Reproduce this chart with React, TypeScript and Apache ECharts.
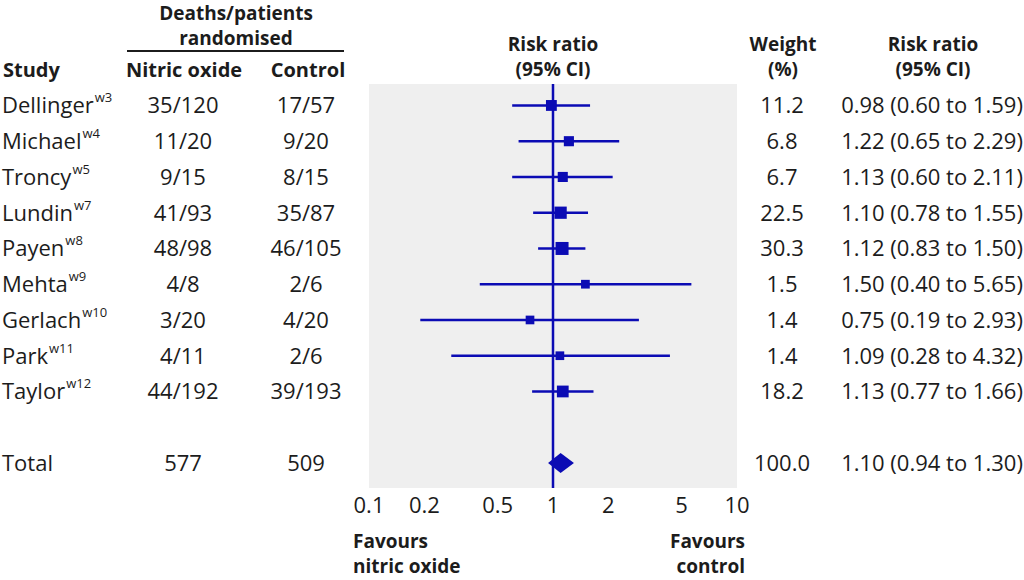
import React, { useEffect, useRef } from 'react';
import * as echarts from 'echarts';

// ---- data ----
const studies = ['Dellinger', 'Michael', 'Troncy', 'Lundin', 'Payen', 'Mehta', 'Gerlach', 'Park', 'Taylor'];
const refs = ['w3', 'w4', 'w5', 'w7', 'w8', 'w9', 'w10', 'w11', 'w12'];
const nitricOxide = ['35/120', '11/20', '9/15', '41/93', '48/98', '4/8', '3/20', '4/11', '44/192'];
const control = ['17/57', '9/20', '8/15', '35/87', '46/105', '2/6', '4/20', '2/6', '39/193'];
const weights = [11.2, 6.8, 6.7, 22.5, 30.3, 1.5, 1.4, 1.4, 18.2];
const riskRatio = [0.98, 1.22, 1.13, 1.1, 1.12, 1.5, 0.75, 1.09, 1.13];
const ciLow = [0.6, 0.65, 0.6, 0.78, 0.83, 0.4, 0.19, 0.28, 0.77];
const ciHigh = [1.59, 2.29, 2.11, 1.55, 1.5, 5.65, 2.93, 4.32, 1.66];
const totalLabel = 'Total';
const totalNitric = '577';
const totalControl = '509';
const totalWeight = 100.0;
const totalRR = 1.1;
const totalLow = 0.94;
const totalHigh = 1.3;
const tickValues = [0.1, 0.2, 0.5, 1, 2, 5, 10];

// ---- style ----
const BLUE = '#0b0bb4';
const INK = '#1c1c1c';
const FONT = '"Open Sans", "Noto Sans", sans-serif';
const FS = 22;
const HFS = 20;
const STACKFS = 19;
const SUPFS = 13;

const fmt2 = (v: number) => v.toFixed(2);
const fmtTick = (v: number) => {
  const r = Math.round(v * 10) / 10;
  return r >= 1 ? String(Math.round(r)) : String(r);
};

export default function App() {
  const ref = useRef<HTMLDivElement>(null);
  useEffect(() => {
    const chart = echarts.init(ref.current!, null, { renderer: 'svg' });
    const L = Math.log10;
    const totalRow = studies.length + 1;

    const ctx = document.createElement('canvas').getContext('2d')!;
    ctx.font = `${FS}px ${FONT}`;
    const measure = (s: string) => ctx.measureText(s).width;

    const txt = (text: string, x: number, y: number, align: string, bold = false, extra: any = {}) => ({
      type: 'text',
      x,
      y,
      style: {
        text,
        fill: INK,
        fontSize: bold ? HFS : FS,
        fontFamily: FONT,
        fontWeight: bold ? 'bold' : 'normal',
        align,
        verticalAlign: 'middle',
        ...extra,
      },
    });
    const stack = (text: string, x: number, y: number, align: string) =>
      txt(text, x, y, align, true, { fontSize: STACKFS });

    const tableRows: any[] = studies.map((s, i) => ({
      value: [0, i],
      name: s,
      ref: refs[i],
      nitric: nitricOxide[i],
      control: control[i],
      weight: weights[i].toFixed(1),
      ci: `${fmt2(riskRatio[i])} (${fmt2(ciLow[i])} to ${fmt2(ciHigh[i])})`,
    }));
    tableRows.push({
      value: [0, totalRow],
      name: totalLabel,
      ref: '',
      nitric: totalNitric,
      control: totalControl,
      weight: totalWeight.toFixed(1),
      ci: `${fmt2(totalRR)} (${fmt2(totalLow)} to ${fmt2(totalHigh)})`,
    });

    const option: any = {
      animation: false,
      grid: {
        left: 369,
        right: 1024 - 737,
        top: 84,
        bottom: 580 - 488,
        show: true,
        backgroundColor: '#efefef',
        borderWidth: 0,
      },
      xAxis: {
        type: 'value',
        min: -1,
        max: 1,
        axisLine: { show: false },
        axisTick: { show: false, customValues: tickValues.map(L) },
        splitLine: { show: false },
        axisLabel: {
          customValues: tickValues.map(L),
          formatter: (v: number) => fmtTick(Math.pow(10, v)),
          color: INK,
          fontSize: FS,
          fontFamily: FONT,
          margin: 5,
        },
      },
      yAxis: {
        type: 'value',
        min: -0.6,
        max: 10.7,
        inverse: true,
        show: false,
      },
      series: [
        {
          type: 'line',
          data: [
            [0, -0.6],
            [0, 10.7],
          ],
          symbol: 'none',
          lineStyle: { color: BLUE, width: 2.5 },
          z: 3,
          silent: true,
        },
        {
          type: 'custom',
          z: 4,
          data: studies.map((_, i) => [L(riskRatio[i]), i, L(ciLow[i]), L(ciHigh[i]), weights[i]]),
          encode: { x: 0, y: 1 },
          renderItem: (params: any, api: any) => {
            const c = api.coord([api.value(0), api.value(1)]);
            const x0 = api.coord([api.value(2), api.value(1)])[0];
            const x1 = api.coord([api.value(3), api.value(1)])[0];
            const s = 7.5 + 1.0 * Math.sqrt(api.value(4));
            return {
              type: 'group',
              children: [
                {
                  type: 'line',
                  shape: { x1: x0, y1: c[1], x2: x1, y2: c[1] },
                  style: { stroke: BLUE, lineWidth: 2.5 },
                },
                {
                  type: 'rect',
                  shape: { x: c[0] - s / 2, y: c[1] - s / 2, width: s, height: s },
                  style: { fill: BLUE },
                },
              ],
            };
          },
        },
        {
          type: 'custom',
          z: 5,
          data: [[L(totalRR), totalRow, L(totalLow), L(totalHigh)]],
          encode: { x: 0, y: 1 },
          renderItem: (params: any, api: any) => {
            const c = api.coord([api.value(0), api.value(1)]);
            const x0 = api.coord([api.value(2), api.value(1)])[0];
            const x1 = api.coord([api.value(3), api.value(1)])[0];
            const h = 10;
            return {
              type: 'polygon',
              shape: {
                points: [
                  [x0, c[1]],
                  [c[0], c[1] - h],
                  [x1, c[1]],
                  [c[0], c[1] + h],
                ],
              },
              style: { fill: BLUE },
            };
          },
        },
        {
          type: 'custom',
          z: 6,
          clip: false,
          data: tableRows,
          encode: { x: 0, y: 1 },
          renderItem: (params: any, api: any) => {
            const r = tableRows[params.dataIndex];
            const y = api.coord([0, api.value(1)])[1] - 1;
            const children: any[] = [txt(r.name, 2, y, 'left')];
            if (r.ref) {
              children.push(
                txt(r.ref, 2 + measure(r.name) + 1, y - 7, 'left', false, { fontSize: SUPFS })
              );
            }
            children.push(
              txt(r.nitric, 183, y, 'center'),
              txt(r.control, 306, y, 'center'),
              txt(r.weight, 782, y, 'center'),
              txt(r.ci, 932, y, 'center')
            );
            return { type: 'group', children };
          },
        },
      ],
      graphic: [
        stack('Deaths/patients', 236, 13, 'center'),
        stack('randomised', 236, 38, 'center'),
        {
          type: 'line',
          shape: { x1: 127, y1: 51, x2: 344, y2: 51 },
          style: { stroke: INK, lineWidth: 2 },
        },
        txt('Study', 3, 69, 'left', true),
        txt('Nitric oxide', 184, 69, 'center', true),
        txt('Control', 308, 69, 'center', true),
        stack('Risk ratio', 553, 44, 'center'),
        stack('(95% CI)', 553, 69, 'center'),
        stack('Weight', 783, 44, 'center'),
        stack('(%)', 783, 69, 'center'),
        stack('Risk ratio', 933, 44, 'center'),
        stack('(95% CI)', 933, 69, 'center'),
        stack('Favours', 353, 541, 'left'),
        stack('nitric oxide', 353, 566, 'left'),
        stack('Favours', 745, 541, 'right'),
        stack('control', 745, 566, 'right'),
      ],
    };
    chart.setOption(option);
    return () => chart.dispose();
  }, []);
  return (
    <div
      ref={ref}
      style={{ width: 1024, height: 580, position: 'absolute', left: 0, top: 0, background: '#fff' }}
    />
  );
}
